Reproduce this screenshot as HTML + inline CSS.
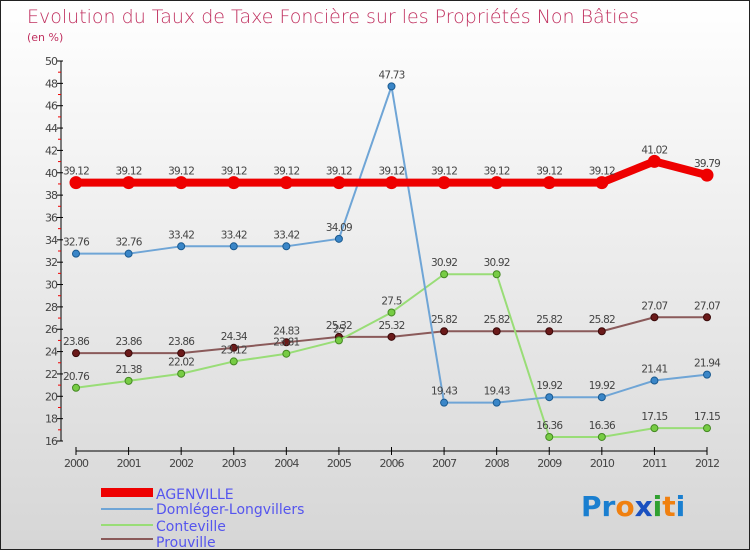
<!DOCTYPE html>
<html><head><meta charset="utf-8"><style>
body{margin:0}
#c{width:750px;height:550px;position:relative;overflow:hidden;box-sizing:border-box;border:1px solid #222;background:linear-gradient(#ffffff,#d6d6d6);font-family:"DejaVu Sans","Liberation Sans",sans-serif}
</style></head><body>
<div id="c">
<svg id="s" width="750" height="550" style="position:absolute;left:0;top:0">
<text x="26" y="22" font-size="19" fill="#c0305f" style="font-family:'DejaVu Sans',sans-serif;font-weight:200">Evolution du Taux de Taxe Foncière sur les Propriétés Non Bâties</text>
<text x="26" y="40" font-size="11" fill="#c0305f">(en %)</text>
<g id="axes"></g><g id="series"></g>
<g>
<rect x="100" y="487" width="52" height="9" fill="#e00"/>
<text x="155" y="498" font-size="14" fill="#55e">AGENVILLE</text>
<line x1="100" x2="152" y1="508" y2="508" stroke="#6fa5d6" stroke-width="2"/>
<text x="155" y="513" font-size="14" fill="#55e">Domléger-Longvillers</text>
<line x1="100" x2="152" y1="524" y2="524" stroke="#99dd77" stroke-width="2"/>
<text x="155" y="530" font-size="14" fill="#55e">Conteville</text>
<line x1="100" x2="152" y1="538" y2="538" stroke="#8a5a5a" stroke-width="2"/>
<text x="155" y="546" font-size="14" fill="#55e">Prouville</text>
</g>
<g font-size="28" font-weight="bold" font-family="'DejaVu Sans',sans-serif">
<text x="580" y="515"><tspan fill="#1a7fd0">Pr</tspan><tspan fill="#f08010">o</tspan><tspan fill="#1a50c0">x</tspan><tspan fill="#30a030">i</tspan><tspan fill="#f08010">t</tspan><tspan fill="#1a7fd0">i</tspan></text>
</g>
</svg>
</div>
<script>
const years=[2000,2001,2002,2003,2004,2005,2006,2007,2008,2009,2010,2011,2012];
const yTicks=[16,18,20,22,24,26,28,30,32,34,36,38,40,42,44,46,48,50];
const agenville=[39.12,39.12,39.12,39.12,39.12,39.12,39.12,39.12,39.12,39.12,39.12,41.02,39.79];
const domleger=[32.76,32.76,33.42,33.42,33.42,34.09,47.73,19.43,19.43,19.92,19.92,21.41,21.94];
const conteville=[20.76,21.38,22.02,23.12,23.81,25.0,27.5,30.92,30.92,16.36,16.36,17.15,17.15];
const prouville=[23.86,23.86,23.86,24.34,24.83,25.32,25.32,25.82,25.82,25.82,25.82,27.07,27.07];
const NS="http://www.w3.org/2000/svg";
const X=i=>75+i*(706-75)/12;
const Y=v=>60+(50-v)*(440-60)/34;
function mk(t,a,p){const e=document.createElementNS(NS,t);for(const k in a)e.setAttribute(k,a[k]);p.appendChild(e);return e;}
const ax=document.getElementById('axes');
mk('line',{x1:60,x2:60,y1:60,y2:440,stroke:'#000'},ax);
mk('line',{x1:75,x2:706,y1:450,y2:450,stroke:'#000'},ax);
yTicks.forEach(v=>{
 mk('line',{x1:56,x2:62,y1:Y(v),y2:Y(v),stroke:'#000'},ax);
 if(v<50)mk('line',{x1:57,x2:60,y1:Y(v+1),y2:Y(v+1),stroke:'#e00'},ax);
 const t=mk('text',{x:56,y:Y(v)+4,'font-size':11,'text-anchor':'end',fill:'#444','letter-spacing':'-1'},ax);
 t.textContent=v;
 
 
});
years.forEach((yr,i)=>{
 mk('line',{x1:X(i),x2:X(i),y1:446,y2:454,stroke:'#000'},ax);
 const t=mk('text',{x:X(i),y:466,'font-size':11,'text-anchor':'middle',fill:'#444','letter-spacing':'-1'},ax);
 t.textContent=yr;
 
 
});
const sg=document.getElementById('series');
function draw(name,vals,color,w,ptFill,ptStroke,r){
 const g=mk('g',{},sg);
 
 
 mk('polyline',{points:vals.map((v,i)=>X(i)+','+Y(v)).join(' '),fill:'none',stroke:color,'stroke-width':w,'stroke-linejoin':'round'},g);
 vals.forEach((v,i)=>{
  const c=mk('circle',{cx:X(i),cy:Y(v),r:r,fill:ptFill,stroke:ptStroke},g);
  
  
  const t=mk('text',{x:X(i),y:Y(v)-8,'font-size':10.5,'text-anchor':'middle',fill:'#444','letter-spacing':'-0.8'},g);
  t.textContent=v===25?'25':String(v);
  
  
 });
}
draw('prouville',prouville,'#8a5a5a',2,'#6b1a1a','#3a0a0a',3.5);
draw('conteville',conteville,'#99dd77',2,'#77cc44','#448822',3.5);
draw('domleger',domleger,'#6fa5d6',2,'#3a86c8','#1a5a90',3.5);
draw('agenville',agenville,'#ee0000',8,'#ee0000','#ee0000',6);
</script>
</body></html>
